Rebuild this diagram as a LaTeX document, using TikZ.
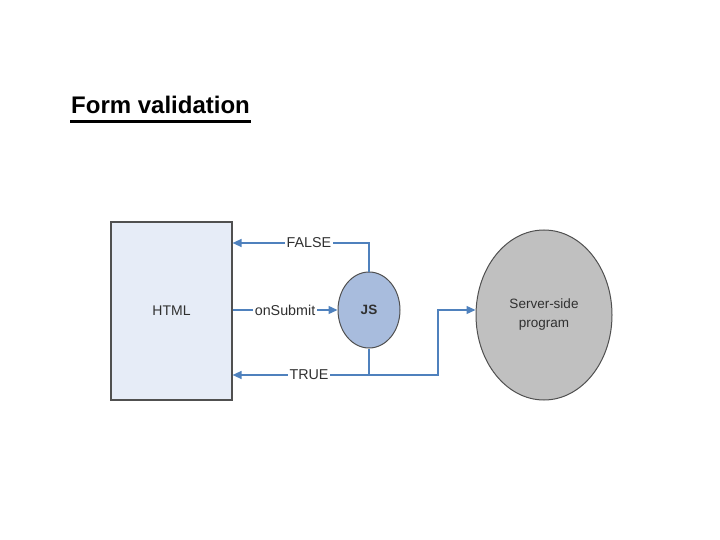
\documentclass[tikz,border=0pt]{standalone}
\usepackage{fontspec}
\setmainfont{Liberation Sans}
\usetikzlibrary{arrows.meta,positioning,shapes.geometric}
\definecolor{linkblue}{HTML}{4F81BD}
\definecolor{htmlfill}{HTML}{E6ECF7}
\definecolor{jsfill}{HTML}{A8BCDD}
\definecolor{serverfill}{HTML}{C0C0C0}
\definecolor{edgegray}{HTML}{505050}
\definecolor{textgray}{HTML}{303030}

\begin{document}
\begin{tikzpicture}[x=1pt, y=-1pt,
    link/.style={draw=linkblue, line width=1.4pt},
    arrowlink/.style={link, -{Triangle[length=9pt,width=8pt]}},
    lbl/.style={fill=white, inner sep=1.5pt, text=textgray, font=\fontsize{14.3}{16}\selectfont},
    htmlbox/.style={draw=edgegray, line width=1.2pt, fill=htmlfill, minimum width=121pt, minimum height=178pt, text=textgray, font=\fontsize{14}{16}\selectfont},
    jsnode/.style={ellipse, draw=edgegray, line width=1pt, fill=jsfill, minimum width=62pt, minimum height=76pt, font=\bfseries\fontsize{13.5}{15}\selectfont, text=textgray},
    servernode/.style={ellipse, draw=edgegray, line width=1pt, fill=serverfill, minimum width=136pt, minimum height=170pt, align=center, font=\fontsize{13.5}{19}\selectfont, text=textgray}]
    \useasboundingbox (0,0) rectangle (720,540);
    % title
    \node[anchor=base west, inner sep=0pt, font=\bfseries\fontsize{24}{28}\selectfont](title) at (71,114){Form validation};
    \draw[line width=3pt] ([xshift=-1pt,yshift=-8pt]title.base west) -- ([xshift=1pt,yshift=-8pt]title.base east);
    % nodes
    \node[htmlbox](html) at (171.5,311){HTML};
    \node[jsnode](js) at (369,310){JS};
    \node[servernode](server) at (544,315){Server-side\\program};
    \coordinate (split) at (js.south |- 0,375);
    \coordinate (bend) at (438,375);
    % connectors
    \path[arrowlink](js.north) |- node[lbl, pos=0.72]{FALSE} (html.east |- 0,243);
    \path[arrowlink](html.east |- js) -- node[lbl, pos=0.5]{onSubmit} (js.west);
    \path[arrowlink](js.south) |- node[lbl, pos=0.72]{TRUE} (html.east |- 0,375);
    \path[arrowlink](split) -- (bend) |- (server.west |- 0,310);
\end{tikzpicture}
\end{document}
